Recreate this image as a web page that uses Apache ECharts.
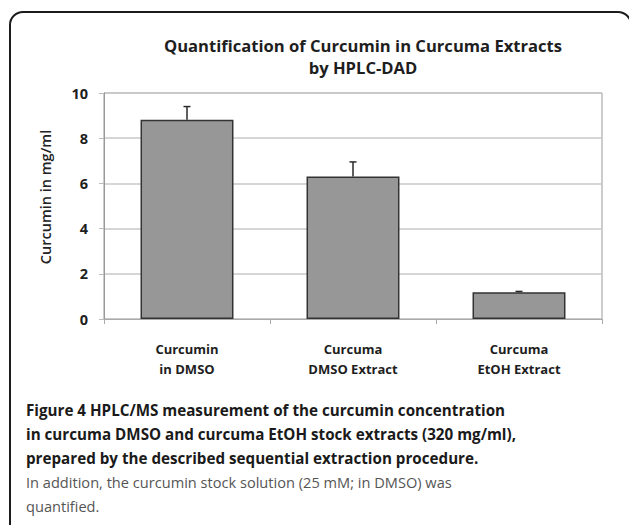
<!DOCTYPE html>
<html>
<head>
<meta charset="utf-8">
<script src="https://cdn.jsdelivr.net/npm/echarts@6/dist/echarts.min.js"></script>
<style>
  html, body { margin: 0; padding: 0; background: #fff; }
  .page { position: relative; width: 629px; height: 525px; overflow: hidden; }
  .frame {
    position: absolute; left: 9px; top: 11px; right: -3px; bottom: -20px;
    border: 2px solid #1c1c1c; border-radius: 14px;
  }
  #chart { position: absolute; left: 0; top: 0; width: 629px; height: 525px; }
  .caption {
    position: absolute; left: 26px; top: 398px;
    font-family: "Open Sans", sans-serif; font-size: 14.6px; line-height: 24px;
    white-space: nowrap; color: #555;
  }
  .caption b { color: #1a1a1a; font-weight: 700; font-size: 15.2px; }
</style>
</head>
<body>
<div class="page">
  <div class="frame"></div>
  <div id="chart"></div>
  <div class="caption">
    <b>Figure 4 HPLC/MS measurement of the curcumin concentration<br>
    in curcuma DMSO and curcuma EtOH stock extracts (320 mg/ml),<br>
    prepared by the described sequential extraction procedure.</b><br>
    In addition, the curcumin stock solution (25 mM; in DMSO) was<br>
    quantified.
  </div>
</div>
<script>
const categories = ['Curcumin\nin DMSO', 'Curcuma\nDMSO Extract', 'Curcuma\nEtOH Extract']
const curcumin = [8.82, 6.30, 1.18]
const errors = [0.58, 0.65, 0.04]
const yTicks = [0, 2, 4, 6, 8, 10]

const chart = echarts.init(document.getElementById('chart'), null, { renderer: 'svg' })

const font = '"Open Sans", sans-serif'

chart.setOption({
  animation: false,
  title: {
    text: 'Quantification of Curcumin in Curcuma Extracts\nby HPLC-DAD',
    left: 358,
    top: 29,
    textAlign: 'center',
    textStyle: { fontFamily: font, fontSize: 16.6, fontWeight: 'bold', color: '#1e1e1e', lineHeight: 22 }
  },
  graphic: [{
    type: 'text',
    x: 45,
    y: 197,
    rotation: Math.PI / 2,
    style: {
      text: 'Curcumin in mg/ml',
      fontFamily: font, fontSize: 14.5, fontWeight: 600, fill: '#222',
      align: 'center', verticalAlign: 'middle'
    }
  }],
  grid: {
    left: 104, right: 27, top: 93, bottom: 206,
    show: true, borderColor: '#999', borderWidth: 1
  },
  xAxis: {
    type: 'category',
    data: categories,
    axisLine: { lineStyle: { color: '#aaa' } },
    axisTick: { show: true, length: 5, lineStyle: { color: '#aaa' } },
    axisLabel: {
      fontFamily: font, fontSize: 13, fontWeight: 'bold', color: '#1e1e1e',
      margin: 20, lineHeight: 20
    }
  },
  yAxis: {
    type: 'value',
    min: yTicks[0],
    max: yTicks[yTicks.length - 1],
    interval: 2,
    axisLine: { show: true, lineStyle: { color: '#999' } },
    axisTick: { show: true, length: 5, lineStyle: { color: '#bbb' } },
    axisLabel: {
      fontFamily: font, fontSize: 14.5, fontWeight: 'bold', color: '#1e1e1e', margin: 16
    },
    splitLine: { lineStyle: { color: '#c8c8c8', width: 1.5 } }
  },
  series: [{
    type: 'bar',
    data: curcumin,
    barWidth: '56%',
    itemStyle: { color: '#979797', borderColor: '#333', borderWidth: 1.5 }
  }, {
    type: 'custom',
    z: 5,
    data: curcumin.map((v, i) => [i, v, errors[i]]),
    renderItem: (params, api) => {
      const base = api.coord([api.value(0), api.value(1)])
      const top = api.coord([api.value(0), api.value(1) + api.value(2)])
      const style = { stroke: '#2a2a2a', lineWidth: 1.5 }
      return {
        type: 'group',
        children: [
          { type: 'line', shape: { x1: base[0], y1: base[1], x2: top[0], y2: top[1] }, style },
          { type: 'line', shape: { x1: top[0] - 3.5, y1: top[1], x2: top[0] + 3.5, y2: top[1] }, style }
        ]
      }
    }
  }]
})
</script>
</body>
</html>
